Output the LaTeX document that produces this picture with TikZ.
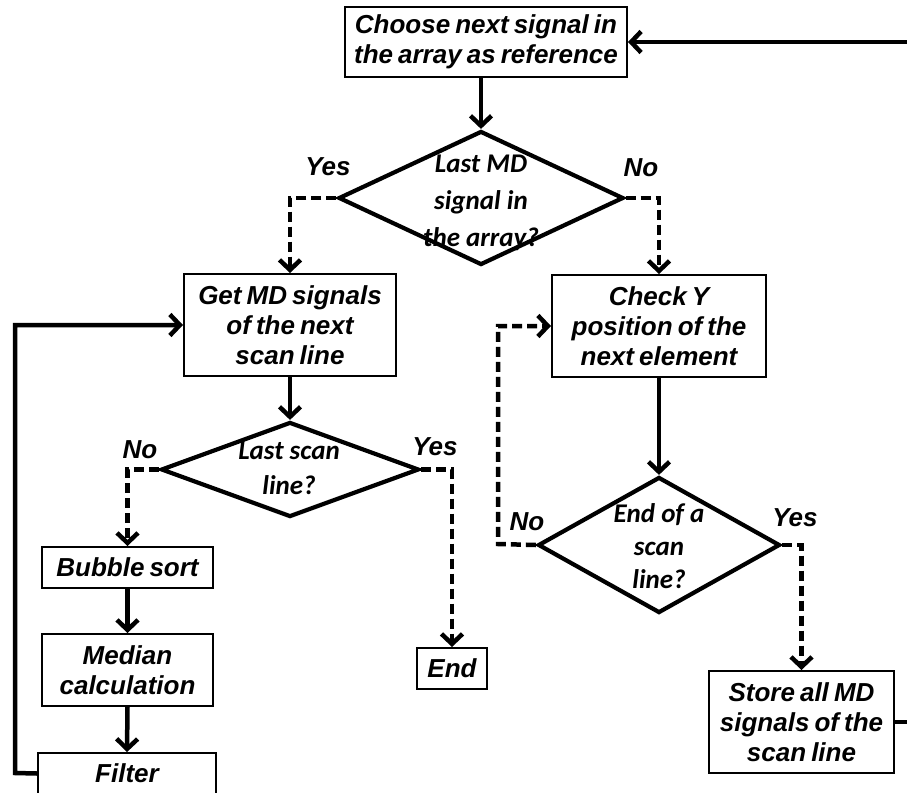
\documentclass[tikz,border=0pt]{standalone}
\usepackage{fontspec}
\setmainfont{Liberation Sans}[WordSpace=0.7]
\newfontfamily\dfont{Carlito}
\usetikzlibrary{arrows.meta,shapes.geometric}
\begin{document}
\begin{tikzpicture}[x=1pt,y=-1pt,
  box/.style={draw,line width=2pt,inner sep=0pt,align=center,
    font=\fontsize{26}{30}\selectfont\bfseries\itshape},
  dia/.style={draw,diamond,line width=4.2pt,inner sep=0pt},
  dtext/.style={align=center,inner sep=0pt},
  lbl/.style={inner sep=0pt,font=\fontsize{26}{30}\selectfont\bfseries\itshape},
  arr/.style={line width=4.5pt,-{Straight Barb[length=10pt,width=21pt]}},
  darr/.style={line width=4.5pt,dash pattern=on 10pt off 5pt,-{Straight Barb[length=10pt,width=21pt]}},
  ln/.style={line width=4.5pt}]
\useasboundingbox (0,0) rectangle (907,792);
% boxes
\node[box,minimum width=282,minimum height=70] (top) at (486,42) {Choose next signal in\\the array as reference};
\node[box,minimum width=212,minimum height=102] (getmd) at (290,325) {Get MD signals\\of the next\\scan line};
\node[box,minimum width=214,minimum height=102] (checky) at (659,326) {Check Y\\position of the\\next element};
\node[box,minimum width=171,minimum height=41] (bubble) at (127.5,567.5) {Bubble sort};
\node[box,minimum width=171,minimum height=72] (median) at (127.5,670) {Median\\calculation};
\node[box,minimum width=178,minimum height=41] (filter) at (127,773.5) {Filter};
\node[box,minimum width=70,minimum height=41] (end) at (452,668.5) {End};
\node[box,minimum width=185,minimum height=102] (store) at (801.5,722) {Store all MD\\signals of the\\scan line};
% diamonds
\node[dia,minimum width=285,minimum height=134] (d1) at (481,198) {};
\node[dtext,font=\fontsize{27}{37}\selectfont\dfont\bfseries\itshape] (d1t) at (481,203) {Last MD\\signal in\\the array?};
\node[dia,minimum width=258,minimum height=95] (d2) at (290,469.5) {};
\node[dtext,font=\fontsize{27}{35}\selectfont\dfont\bfseries\itshape] (d2t) at (289,468) {Last scan\\line?};
\node[dia,minimum width=242,minimum height=136] (d3) at (659,545) {};
\node[dtext,font=\fontsize{27}{33}\selectfont\dfont\bfseries\itshape] (d3t) at (659,546) {End of a\\scan\\line?};
% labels
\node[lbl] (y1) at (328,167) {Yes};
\node[lbl] (n1) at (641,168) {No};
\node[lbl] (n2) at (140,450) {No};
\node[lbl] (y2) at (435,447) {Yes};
\node[lbl] (n3) at (527,522) {No};
\node[lbl] (y3) at (795,518) {Yes};
% coordinates
\coordinate (lp) at (15,773);
\coordinate (cl) at (498,544);
\coordinate (re1) at (907,722);
\coordinate (re2) at (907,42);
% connectors
\draw[arr] (d1.north |- top.south) -- (d1.north);
\draw[darr] (d1.west) -| (getmd.north);
\draw[darr] (d1.east) -| (checky.north);
\draw[arr] (getmd.south) -- (d2.north);
\draw[darr] (d2.west) -| (bubble.north);
\draw[darr] (d2.east) -| (end.north);
\draw[arr] (bubble.south) -- (median.north);
\draw[arr] (median.south) -- (filter.north);
\draw[arr] (filter.west) -- (lp) |- (getmd.west);
\draw[arr] (checky.south) -- (d3.north);
\draw[darr] (d3.west) -- (cl) |- (checky.west);
\draw[darr] (d3.east) -| (store.north);
\draw[ln] (store.east) -- (re1);
\draw[arr] (re2) -- (top.east);
\end{tikzpicture}
\end{document}
